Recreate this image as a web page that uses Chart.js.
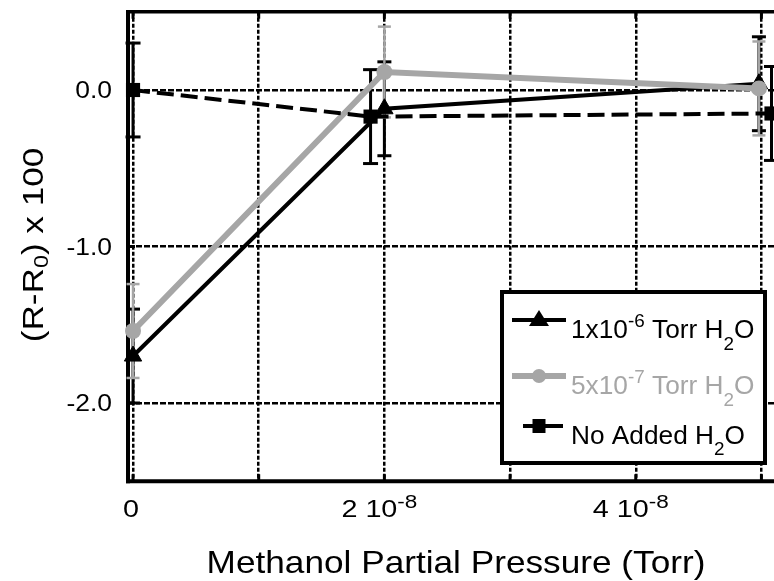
<!DOCTYPE html>
<html>
<head>
<meta charset="utf-8">
<script src="https://cdn.jsdelivr.net/npm/chart.js@4.4.0/dist/chart.umd.min.js"></script>
<style>
  html, body { margin: 0; padding: 0; background: #fff; overflow: hidden; }
  canvas { display: block; }
</style>
</head>
<body>
<canvas id="chart" width="774" height="581"></canvas>
<script>
// values: x in Torr, y = (R-R0) x 100
const xHighWater = [0, 2e-8, 4.98e-8];
const yHighWater = [-1.70, -0.12, 0.04];
const errHighWater = [0.30, 0.30, 0.30];

const xLowWater = [0, 2e-8, 4.98e-8];
const yLowWater = [-1.54, 0.115, 0.01];
const errLowWater = [0.30, 0.29, 0.30];

const xNoWater = [0, 1.89e-8, 5.08e-8];
const yNoWater = [0, -0.17, -0.15];
const errNoWater = [0.30, 0.30, 0.30];

// axes
const xMin = -0.04e-8, xMax = 5.1e-8;
const yMin = -2.5, yMax = 0.5;
const xGridValues = [0, 1e-8, 2e-8, 3e-8, 4e-8, 5e-8];
const xLabelValues = [0, 2e-8, 4e-8];
const xLabelMantissa = ['0', '2 10', '4 10'];
const xLabelExponent = ['', '-8', '-8'];
const yGridValues = [0, -1, -2];
const yLabels = ['0.0', '-1.0', '-2.0'];

const GREY = '#a6a6a6';
const FONT = '"Liberation Sans", Arial, Helvetica, sans-serif';

// draws a run of text pieces (for super/subscripts), stretched along the text
function drawParts(ctx, parts, align, stretch, color) {
    ctx.save();
    ctx.scale(stretch, 1);
    ctx.fillStyle = color;
    ctx.textBaseline = 'alphabetic';
    let total = 0;
    parts.forEach(p => {
        ctx.font = p.size + 'px ' + FONT;
        p.w = ctx.measureText(p.t).width;
        total += p.w;
    });
    let cx = align === 'center' ? -total / 2 : align === 'right' ? -total : 0;
    parts.forEach(p => {
        ctx.font = p.size + 'px ' + FONT;
        ctx.fillText(p.t, cx, p.dy || 0);
        cx += p.w;
    });
    ctx.restore();
}

function textAt(ctx, parts, x, y, align, stretch, color) {
    ctx.save();
    ctx.translate(x, y);
    drawParts(ctx, parts, align, stretch, color);
    ctx.restore();
}

function seg(ctx, x1, y1, x2, y2) {
    ctx.beginPath();
    ctx.moveTo(x1, y1);
    ctx.lineTo(x2, y2);
    ctx.stroke();
}

const errorSets = [
    { xs: xHighWater, ys: yHighWater, errs: errHighWater, color: '#000', width: 3, cap: 14 },
    { xs: xNoWater, ys: yNoWater, errs: errNoWater, color: '#000', width: 3, cap: 15 },
    { xs: xLowWater, ys: yLowWater, errs: errLowWater, color: GREY, width: 2.5, cap: 13 }
];

const legendRows = [
    { color: '#000', marker: 'triangle', y: 320, x1: 512, x2: 566, lw: 4,
      parts: [{ t: '1x10', size: 25 }, { t: '-6', size: 18, dy: -11 }, { t: ' Torr H', size: 25 }, { t: '2', size: 18, dy: 12 }, { t: 'O', size: 25 }] },
    { color: GREY, marker: 'circle', y: 376, x1: 512, x2: 566, lw: 6,
      parts: [{ t: '5x10', size: 25 }, { t: '-7', size: 18, dy: -11 }, { t: ' Torr H', size: 25 }, { t: '2', size: 18, dy: 12 }, { t: 'O', size: 25 }] },
    { color: '#000', marker: 'rect', y: 426, x1: 523, x2: 563, lw: 4,
      parts: [{ t: 'No Added H', size: 25 }, { t: '2', size: 18, dy: 11 }, { t: 'O', size: 25 }] }
];

function legendMarker(ctx, type, x, y, color) {
    ctx.fillStyle = color;
    ctx.beginPath();
    if (type === 'triangle') {
        ctx.moveTo(x, y - 10);
        ctx.lineTo(x + 10, y + 6);
        ctx.lineTo(x - 10, y + 6);
        ctx.closePath();
    } else if (type === 'circle') {
        ctx.arc(x, y, 7, 0, Math.PI * 2);
    } else {
        ctx.rect(x - 6.5, y - 7, 13, 14);
    }
    ctx.fill();
}

const figureDecor = {
    id: 'figureDecor',
    beforeDatasetsDraw(chart) {
        const { ctx, chartArea: a, scales: { x, y } } = chart;
        ctx.save();
        ctx.strokeStyle = '#000';
        ctx.setLineDash([]);

        // small inward ticks
        ctx.lineWidth = 3;
        xGridValues.forEach(v => {
            const px = x.getPixelForValue(v);
            seg(ctx, px, a.top, px, a.top + 7);
            seg(ctx, px, a.bottom - 7, px, a.bottom);
        });
        yGridValues.forEach(v => {
            const py = y.getPixelForValue(v);
            seg(ctx, a.left, py, a.left + 7, py);
        });

        // frame (no right side visible)
        ctx.lineWidth = 3.5;
        seg(ctx, a.left - 2, a.top, chart.width, a.top);
        ctx.lineWidth = 4;
        seg(ctx, a.left, a.top - 1.5, a.left, a.bottom + 2);
        seg(ctx, a.left - 2, a.bottom, chart.width, a.bottom);

        // error bars
        errorSets.forEach(s => {
            ctx.strokeStyle = s.color;
            ctx.lineWidth = s.width;
            s.xs.forEach((xv, i) => {
                const px = x.getPixelForValue(xv);
                const hi = y.getPixelForValue(s.ys[i] + s.errs[i]);
                const lo = y.getPixelForValue(s.ys[i] - s.errs[i]);
                seg(ctx, px, hi, px, lo);
                seg(ctx, px - s.cap / 2, hi, px + s.cap / 2, hi);
                seg(ctx, px - s.cap / 2, lo, px + s.cap / 2, lo);
            });
        });
        ctx.restore();
    },
    afterDraw(chart) {
        const { ctx, scales: { x, y } } = chart;

        // y tick labels
        yGridValues.forEach((v, i) => {
            textAt(ctx, [{ t: yLabels[i], size: 23 }], 112, y.getPixelForValue(v) + 8, 'right', 1.15, '#000');
        });

        // x tick labels with exponent
        xLabelValues.forEach((v, i) => {
            const parts = [{ t: xLabelMantissa[i], size: 23 }];
            if (xLabelExponent[i]) parts.push({ t: xLabelExponent[i], size: 18, dy: -9 });
            const off = xLabelExponent[i] ? -5 : -2;
            textAt(ctx, parts, x.getPixelForValue(v) + off, 516.5, 'center', 1.25, '#000');
        });

        // axis titles
        textAt(ctx, [{ t: 'Methanol Partial Pressure (Torr)', size: 32 }], 456, 573, 'center', 1.1, '#000');
        ctx.save();
        ctx.translate(43, 245);
        ctx.rotate(-Math.PI / 2);
        drawParts(ctx, [{ t: '(R-R', size: 30 }, { t: '0', size: 20, dy: 5 }, { t: ') x 100', size: 30 }], 'center', 1.17, '#000');
        ctx.restore();

        // legend box
        ctx.save();
        ctx.fillStyle = '#fff';
        ctx.fillRect(502, 292, 263, 171);
        ctx.strokeStyle = '#000';
        ctx.lineWidth = 4;
        ctx.strokeRect(502, 292, 263, 171);
        legendRows.forEach(r => {
            ctx.strokeStyle = r.color;
            ctx.lineWidth = r.lw;
            seg(ctx, r.x1, r.y, r.x2, r.y);
            legendMarker(ctx, r.marker, 539, r.y, r.color);
            const baseY = r.y + 18;
            textAt(ctx, r.parts, 571, baseY, 'left', 1.05, r.color);
        });
        ctx.restore();
    }
};

const toPoints = (xs, ys) => xs.map((xv, i) => ({ x: xv, y: ys[i] }));

new Chart(document.getElementById('chart'), {
    type: 'line',
    data: {
        datasets: [
            {
                label: '1x10-6 Torr H2O',
                data: toPoints(xHighWater, yHighWater),
                borderColor: '#000',
                backgroundColor: '#000',
                borderWidth: 4,
                pointStyle: 'triangle',
                pointRadius: 10,
                pointBorderWidth: 1,
                order: 3,
                clip: false
            },
            {
                label: '5x10-7 Torr H2O',
                data: toPoints(xLowWater, yLowWater),
                borderColor: GREY,
                backgroundColor: GREY,
                borderWidth: 6,
                pointStyle: 'circle',
                pointRadius: 8,
                pointBorderWidth: 0,
                order: 2,
                clip: false
            },
            {
                label: 'No Added H2O',
                data: toPoints(xNoWater, yNoWater),
                borderColor: '#000',
                backgroundColor: '#000',
                borderWidth: 4,
                borderDash: [17, 7],
                pointStyle: 'rect',
                pointRadius: 10,
                pointBorderWidth: 0,
                order: 1,
                clip: false
            }
        ]
    },
    options: {
        responsive: false,
        animation: false,
        devicePixelRatio: 1,
        layout: { autoPadding: false, padding: { top: 11.75, right: 0, bottom: 0, left: 0 } },
        plugins: {
            legend: { display: false },
            tooltip: { enabled: false },
            title: { display: false }
        },
        scales: {
            x: {
                type: 'linear',
                min: xMin,
                max: xMax,
                afterBuildTicks: s => { s.ticks = xGridValues.map(v => ({ value: v })); },
                afterFit: s => { s.height = 99.75; },
                ticks: { display: false },
                grid: { color: '#000', lineWidth: 2.5, drawTicks: false },
                border: { display: false, dash: [4, 2] }
            },
            y: {
                type: 'linear',
                min: yMin,
                max: yMax,
                afterBuildTicks: s => { s.ticks = yGridValues.map(v => ({ value: v })); },
                afterFit: s => { s.width = 128; },
                ticks: { display: false },
                grid: { color: '#000', lineWidth: 2.5, drawTicks: false },
                border: { display: false, dash: [6, 2] }
            }
        }
    },
    plugins: [figureDecor]
});
</script>
</body>
</html>
